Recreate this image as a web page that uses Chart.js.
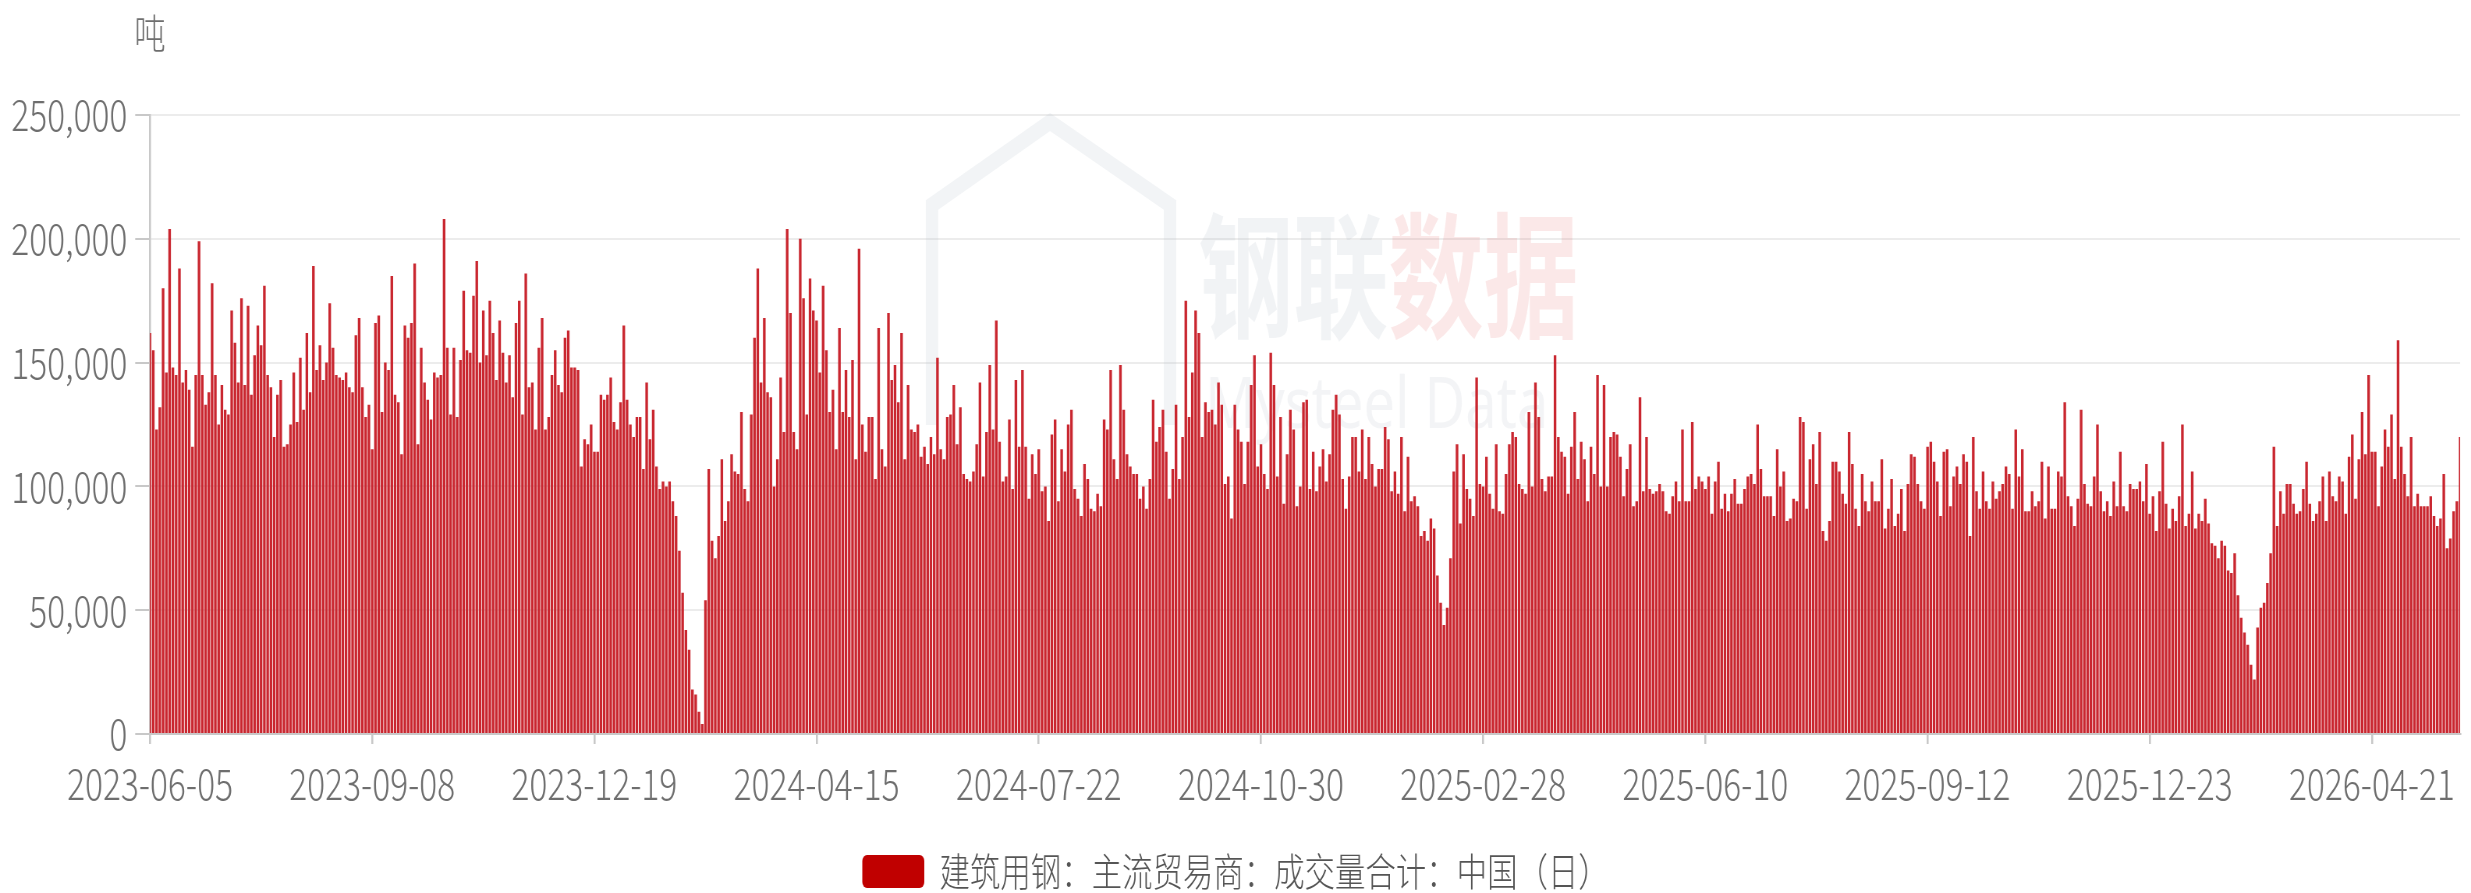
<!DOCTYPE html>
<html>
<head>
<meta charset="utf-8">
<script src="https://cdn.jsdelivr.net/npm/chart.js@4.4.1/dist/chart.umd.min.js"></script>
<style>
  html, body { margin: 0; padding: 0; background: #fff; overflow: hidden; }
  #wrap { height: 901px; position: relative; transform-origin: 0 0; }
</style>
</head>
<body>
<div id="wrap"><canvas id="chart"></canvas></div>
<script>
// x axis: one label every 68 trading days
const tickLabels = ['2023-06-05', '2023-09-08', '2023-12-19', '2024-04-15', '2024-07-22', '2024-10-30',
                    '2025-02-28', '2025-06-10', '2025-09-12', '2025-12-23', '2026-04-21'];
const tickEvery = 68;
const seriesName = '建筑用钢：主流贸易商：成交量合计：中国（日）';
const unitLabel = '吨';

// daily volume, tonnes
const volumes = [
  162000,155000,123000,132000,180000,146000,204000,148000,145000,188000,
  142000,147000,139000,116000,145000,199000,145000,133000,138000,182000,
  145000,125000,141000,131000,129000,171000,158000,142000,176000,141000,
  173000,137000,153000,165000,157000,181000,145000,140000,120000,137000,
  143000,116000,117000,125000,146000,126000,152000,131000,162000,138000,
  189000,147000,157000,143000,150000,174000,156000,145000,144000,143000,
  146000,140000,138000,161000,
  168000,140000,128000,133000,115000,166000,169000,130000,150000,147000,
  185000,137000,134000,113000,165000,160000,166000,190000,117000,156000,
  142000,135000,127000,146000,144000,145000,208000,156000,129000,156000,
  128000,151000,179000,155000,154000,177000,191000,150000,171000,153000,
  175000,162000,143000,167000,154000,142000,153000,136000,166000,175000,
  129000,186000,140000,142000,123000,156000,168000,123000,128000,145000,
  155000,141000,138000,
  160000,163000,148000,148000,147000,108000,119000,117000,125000,114000,
  114000,137000,135000,137000,144000,126000,123000,134000,165000,135000,
  125000,120000,128000,128000,107000,142000,119000,131000,108000,99000,
  102000,100000,102000,94000,88000,74000,57000,42000,34000,18000,
  16000,9000,4000,54000,107000,78000,71000,80000,111000,86000,
  94000,113000,106000,105000,130000,99000,94000,129000,160000,188000,
  142000,168000,138000,136000,
  100000,111000,144000,122000,204000,170000,122000,115000,200000,176000,
  129000,184000,171000,167000,146000,181000,155000,130000,139000,115000,
  164000,130000,147000,128000,151000,111000,196000,125000,114000,128000,
  128000,103000,164000,115000,108000,170000,143000,149000,134000,162000,
  111000,141000,123000,122000,125000,112000,116000,109000,120000,113000,
  152000,115000,111000,128000,129000,141000,117000,132000,105000,103000,
  102000,106000,117000,142000,
  104000,122000,149000,123000,167000,118000,102000,104000,127000,99000,
  143000,116000,147000,116000,95000,113000,105000,115000,98000,100000,
  86000,121000,127000,94000,115000,106000,125000,131000,99000,95000,
  88000,109000,103000,91000,90000,97000,92000,127000,123000,147000,
  111000,103000,149000,131000,113000,108000,105000,105000,95000,100000,
  91000,103000,135000,118000,124000,131000,114000,95000,107000,133000,
  103000,120000,175000,128000,
  146000,171000,162000,120000,134000,130000,131000,125000,142000,133000,
  101000,104000,87000,133000,123000,118000,101000,118000,141000,153000,
  108000,117000,105000,99000,154000,141000,104000,128000,93000,113000,
  131000,123000,92000,100000,134000,135000,99000,114000,98000,108000,
  115000,102000,113000,131000,137000,129000,103000,91000,104000,120000,
  120000,106000,123000,103000,120000,109000,100000,107000,107000,124000,
  119000,98000,106000,97000,
  120000,90000,112000,94000,96000,92000,80000,82000,78000,87000,
  83000,64000,53000,44000,51000,71000,106000,117000,85000,113000,
  99000,95000,88000,144000,101000,100000,112000,97000,91000,117000,
  90000,89000,105000,117000,122000,120000,101000,99000,97000,130000,
  100000,142000,128000,103000,98000,104000,104000,153000,120000,114000,
  112000,97000,116000,130000,103000,118000,111000,94000,116000,105000,
  145000,100000,141000,100000,
  120000,122000,121000,112000,96000,107000,117000,92000,94000,136000,
  98000,120000,99000,97000,98000,101000,98000,90000,89000,96000,
  102000,94000,123000,94000,94000,126000,99000,104000,102000,99000,
  104000,89000,102000,110000,91000,97000,90000,97000,103000,93000,
  93000,99000,104000,105000,101000,125000,107000,96000,96000,96000,
  88000,115000,100000,106000,86000,87000,95000,94000,128000,126000,
  91000,111000,117000,101000,
  122000,82000,78000,86000,110000,110000,106000,97000,93000,122000,
  109000,91000,84000,105000,94000,90000,102000,94000,94000,111000,
  83000,91000,103000,84000,89000,99000,82000,101000,113000,112000,
  101000,94000,91000,116000,118000,110000,102000,88000,114000,115000,
  92000,104000,108000,101000,113000,110000,80000,120000,98000,91000,
  106000,94000,91000,102000,95000,98000,101000,108000,105000,91000,
  123000,104000,115000,90000,
  90000,98000,92000,94000,110000,87000,108000,91000,91000,106000,
  104000,134000,96000,92000,84000,95000,131000,101000,93000,92000,
  104000,125000,98000,90000,94000,88000,102000,92000,114000,92000,
  90000,101000,99000,99000,102000,94000,109000,89000,96000,82000,
  98000,118000,93000,83000,91000,86000,96000,125000,84000,89000,
  106000,83000,89000,86000,95000,85000,77000,76000,71000,78000,
  76000,66000,65000,73000,
  56000,47000,41000,36000,28000,22000,43000,51000,53000,61000,
  73000,116000,84000,98000,89000,101000,101000,93000,89000,90000,
  99000,110000,93000,86000,89000,94000,104000,86000,106000,96000,
  94000,104000,102000,89000,112000,121000,95000,111000,130000,113000,
  145000,114000,114000,92000,108000,123000,116000,129000,103000,159000,
  116000,105000,96000,120000,92000,97000,92000,92000,92000,96000,
  88000,84000,87000,105000,75000,79000,90000,94000,120000
];
const categories = volumes.map((v, i) => i);

// the reference text is horizontally condensed: draw wide, squeeze the page horizontally
const S = 0.78;
const wrap = document.getElementById('wrap');
wrap.style.width = Math.round(2471 / S) + 'px';
wrap.style.transform = `scaleX(${S})`;

const barColor = '#c9262f';
const legendColor = '#c00000';
const axisGray = '#c8c8c8';
const textGray = '#6e6e6e';
const cjkFamily = "'Noto Sans CJK SC', 'Noto Sans', sans-serif";
const axisFont = { family: cjkFamily, size: 43, weight: 300 };

// unit above the y axis + faint watermark behind the bars
const extras = {
  id: 'extras',
  beforeDatasetsDraw(chart) {
    const c = chart.ctx;
    c.save();
    c.lineWidth = 16;
    c.strokeStyle = 'rgba(190,198,210,0.2)';
    c.beginPath();
    c.moveTo(932 / S, 425); c.lineTo(932 / S, 205); c.lineTo(1050 / S, 122); c.lineTo(1170 / S, 205); c.lineTo(1170 / S, 425);
    c.stroke();
    c.font = `bold 122px ${cjkFamily}`;
    c.textBaseline = 'alphabetic';
    c.textAlign = 'left';
    c.save();
    c.translate(1198 / S, 328);
    c.scale(1, 1.12);
    c.fillStyle = 'rgba(170,178,192,0.16)';
    c.fillText('钢联', 0, 0);
    c.fillStyle = 'rgba(225,90,90,0.14)';
    c.fillText('数据', 244, 0);
    c.restore();
    c.font = "72px 'Noto Sans', sans-serif";
    c.fillStyle = 'rgba(170,178,192,0.14)';
    c.fillText('Mysteel Data', 1205 / S, 428);
    c.restore();
  },
  afterDraw(chart) {
    const c = chart.ctx;
    c.save();
    c.font = `300 40px ${cjkFamily}`;
    c.fillStyle = textGray;
    c.textAlign = 'center';
    c.textBaseline = 'middle';
    c.fillText(unitLabel, chart.chartArea.left, 33);
    c.restore();
  }
};

const ctx = document.getElementById('chart').getContext('2d');

const chart = new Chart(ctx, {
  type: 'bar',
  data: {
    labels: categories,
    datasets: [{
      label: seriesName,
      data: volumes,
      backgroundColor: barColor,
      borderWidth: 0,
      barPercentage: 1,
      categoryPercentage: 0.8,
    }],
  },
  options: {
    responsive: true,
    maintainAspectRatio: false,
    animation: false,
    devicePixelRatio: 1,
    layout: { padding: { top: 115, left: 0, right: 0, bottom: 0 } },
    scales: {
      x: {
        offset: false,
        grid: {
          offset: false,
          drawOnChartArea: false,
          tickLength: 10,
          lineWidth: 2 / S,
          color: c => (c.index % tickEvery === 0 ? axisGray : 'rgba(0,0,0,0)'),
          tickColor: c => (c.index % tickEvery === 0 ? axisGray : 'rgba(0,0,0,0)'),
        },
        border: { color: axisGray, width: 2 },
        ticks: {
          autoSkip: false,
          maxRotation: 0,
          minRotation: 0,
          padding: 14,
          color: textGray,
          font: axisFont,
          callback: (v, i) => (i % tickEvery === 0 ? tickLabels[i / tickEvery] : ''),
        },
        afterFit: s => { s.height = 110; },
      },
      y: {
        min: 0,
        max: 250000,
        ticks: {
          stepSize: 50000,
          padding: 10,
          color: textGray,
          font: axisFont,
          callback: v => v.toLocaleString('en-US'),
        },
        grid: { color: '#ececec', lineWidth: 2, tickLength: 19, tickColor: axisGray },
        border: { color: axisGray, width: 2 / S },
        afterFit: s => { s.width = 150 / S; },
      },
    },
    plugins: {
      legend: {
        position: 'bottom',
        labels: {
          color: '#555',
          font: { family: cjkFamily, size: 39, weight: 300 },
          boxWidth: 62 / S,
          boxHeight: 33,
          useBorderRadius: true,
          borderRadius: 6,
          padding: 8,
          generateLabels: ch => {
            const items = Chart.defaults.plugins.legend.labels.generateLabels(ch);
            items.forEach(it => { it.fillStyle = legendColor; it.strokeStyle = legendColor; it.lineWidth = 0; });
            return items;
          },
        },
      },
      tooltip: { enabled: false },
    },
  },
  plugins: [extras],
});
</script>
</body>
</html>
